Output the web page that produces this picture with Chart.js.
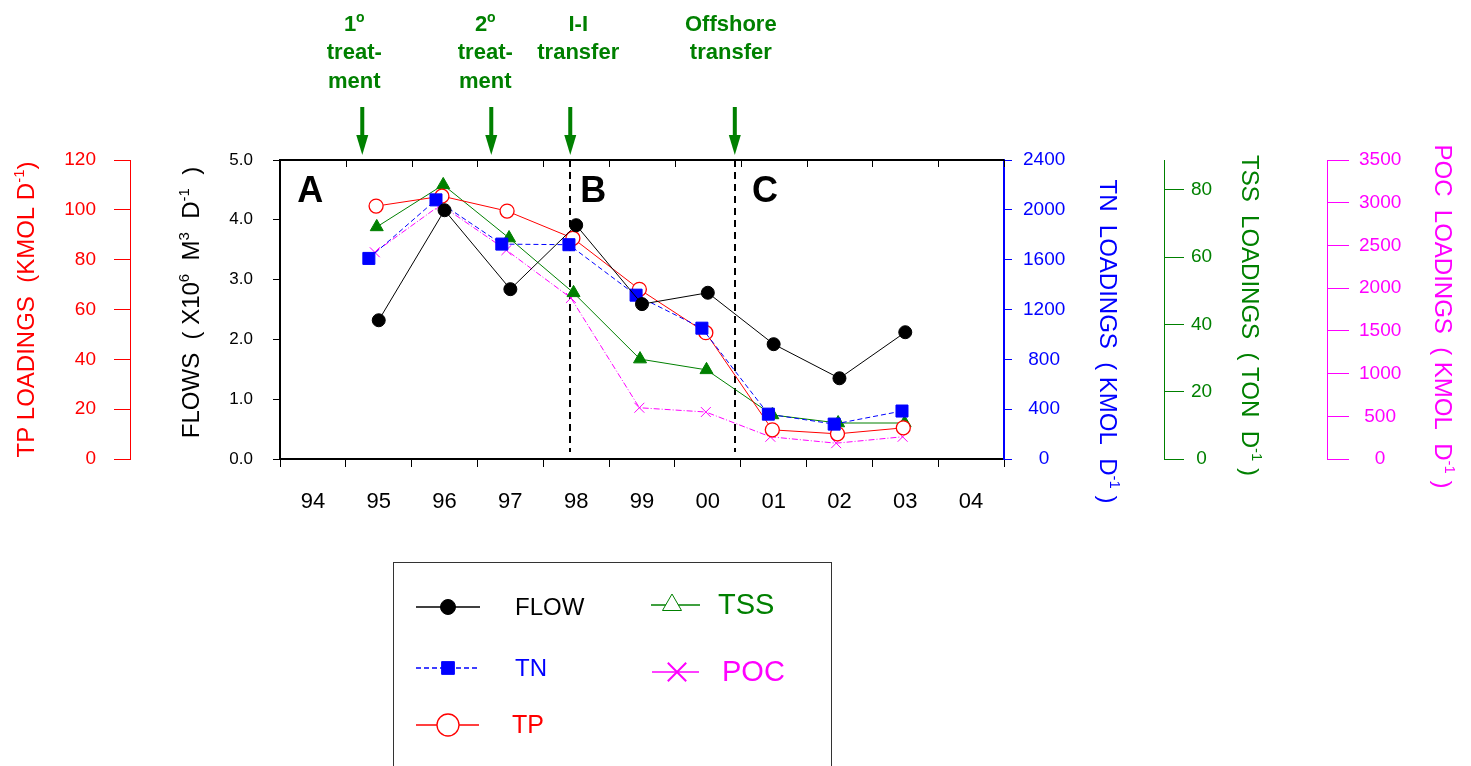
<!DOCTYPE html>
<html>
<head>
<meta charset="utf-8">
<title>Flows and loadings</title>
<script src="https://cdn.jsdelivr.net/npm/chart.js@4.4.1/dist/chart.umd.min.js"></script>
<style>
  html, body { margin: 0; padding: 0; background: #fff; }
  #wrap { width: 1471px; height: 766px; position: relative; }
</style>
</head>
<body>
<div id="wrap"><canvas id="grafico"></canvas></div>
<script>
// Year labels (bottom axis)
const xLabels = ["94", "95", "96", "97", "98", "99", "00", "01", "02", "03", "04"];

// FLOW (x10^6 m3/d)
const flowYears = [95, 96, 97, 98, 99, 100, 101, 102, 103];
const flow = [2.32, 4.16, 2.84, 3.91, 2.59, 2.78, 1.92, 1.35, 2.12];

// TN loadings (kmol/d)
const tnYears = [94.85, 95.87, 96.87, 97.89, 98.91, 99.91, 100.92, 101.92, 102.95];
const tn = [1610, 2080, 1725, 1720, 1315, 1050, 360, 280, 385];

// TP loadings (kmol/d)
const tpYears = [94.96, 95.96, 96.95, 97.95, 98.96, 99.97, 100.98, 101.97, 102.97];
const tp = [101.5, 105.5, 99.5, 88.6, 68.1, 50.7, 11.7, 10.1, 12.5];

// TSS loadings (ton/d)
const tssYears = [94.97, 95.98, 96.98, 97.96, 98.97, 99.98, 100.98, 101.98, 102.99];
const tss = [69.0, 81.5, 65.7, 49.4, 29.7, 26.5, 13.1, 10.7, 10.7];

// POC loadings (kmol/d)
const pocYears = [94.94, 95.94, 96.94, 97.92, 98.96, 99.97, 100.95, 101.95, 102.96];
const poc = [2420, 2975, 2445, 1885, 600, 550, 260, 185, 260];

// Events (arrows on top) and phase boundaries
const eventYears = [94.75, 96.71, 97.91, 100.41];
const eventTexts = [
    [["1", "o"], "treat-", "ment"],
    [["2", "o"], "treat-", "ment"],
    ["I-I", "transfer"],
    ["Offshore", "transfer"]
];
const eventTextShift = [-8, -6, 8, -4];
const phaseLines = [97.91, 100.41];
const phaseNames = ["A", "B", "C"];
const phaseLabelYears = [93.96, 98.26, 100.87];

const GREEN = "#008000";
const FONT = "'Liberation Sans', Arial, Helvetica, sans-serif";

function pontos(xs, ys) {
    return xs.map((x, i) => ({ x: x, y: ys[i] }));
}

// Text with superscripts, centered on (x, y), rotated
function textoRico(ctx, parts, x, y, angle, size, color, bold) {
    const w = bold ? "bold " : "";
    ctx.save();
    ctx.translate(x, y);
    ctx.rotate(angle);
    ctx.fillStyle = color;
    ctx.textAlign = "left";
    ctx.textBaseline = "alphabetic";
    let total = 0;
    parts.forEach(p => {
        const sup = typeof p !== "string";
        ctx.font = w + (sup ? Math.round(size * 0.62) : size) + "px " + FONT;
        total += ctx.measureText(sup ? p.s : p).width;
    });
    let cx = -total / 2;
    const base = size * 0.36;
    parts.forEach(p => {
        const sup = typeof p !== "string";
        ctx.font = w + (sup ? Math.round(size * 0.62) : size) + "px " + FONT;
        const t = sup ? p.s : p;
        ctx.fillText(t, cx, sup ? base - size * 0.42 : base);
        cx += ctx.measureText(t).width;
    });
    ctx.restore();
}

// Axis titles
const eixoTitulos = {
    id: "eixoTitulos",
    afterDraw(chart) {
        const ctx = chart.ctx;
        const s = chart.scales;
        const mid = (chart.chartArea.top + chart.chartArea.bottom) / 2;
        textoRico(ctx, ["TP LOADINGS  (KMOL D", { s: "-1" }, ")"], s.yTP.left + 25, mid, -Math.PI / 2, 24, "#ff0000");
        textoRico(ctx, ["FLOWS  ( X10", { s: "6" }, "  M", { s: "3" }, "  D", { s: "-1" }, "  )"], s.y.left + 60, mid - 7, -Math.PI / 2, 24, "#000");
        textoRico(ctx, ["TN  LOADINGS  ( KMOL  D", { s: "-1" }, " )"], s.yTN.left + 105, mid + 32, Math.PI / 2, 24, "#0000ff");
        textoRico(ctx, ["TSS  LOADINGS  ( TON  D", { s: "-1" }, " )"], s.yTSS.left + 87, mid + 6, Math.PI / 2, 24, GREEN);
        textoRico(ctx, ["POC  LOADINGS  ( KMOL  D", { s: "-1" }, " )"], s.yPOC.left + 117, mid + 7, Math.PI / 2, 24, "#ff00ff");
    }
};

// Top frame, phase lines, event arrows, A/B/C
const marcacoes = {
    id: "marcacoes",
    beforeDatasetsDraw(chart) {
        const ctx = chart.ctx;
        const area = chart.chartArea;
        const xs = chart.scales.x;
        const yf = chart.scales.y;
        ctx.save();
        // top frame with inward ticks
        ctx.strokeStyle = "#000";
        ctx.lineWidth = 2;
        ctx.beginPath();
        ctx.moveTo(area.left - 1, area.top);
        ctx.lineTo(area.right, area.top);
        ctx.stroke();
        ctx.lineWidth = 1;
        xs.ticks.forEach(t => {
            const px = Math.round(xs.getPixelForValue(t.value)) + 0.5;
            ctx.beginPath();
            ctx.moveTo(px, area.top);
            ctx.lineTo(px, area.top + 7);
            ctx.stroke();
        });
        // phase boundaries
        ctx.lineWidth = 2;
        ctx.setLineDash([7, 5]);
        phaseLines.forEach(v => {
            const px = Math.round(xs.getPixelForValue(v));
            ctx.beginPath();
            ctx.moveTo(px, area.top);
            ctx.lineTo(px, area.bottom - 7);
            ctx.stroke();
        });
        ctx.setLineDash([]);
        // phase letters
        ctx.fillStyle = "#000";
        ctx.font = "bold 36px " + FONT;
        ctx.textAlign = "center";
        ctx.textBaseline = "middle";
        phaseNames.forEach((n, i) => {
            ctx.fillText(n, xs.getPixelForValue(phaseLabelYears[i]), yf.getPixelForValue(4.5) + 2);
        });
        // arrows and event text
        ctx.fillStyle = GREEN;
        eventYears.forEach((v, i) => {
            const px = xs.getPixelForValue(v);
            ctx.fillRect(px - 2, area.top - 53, 4, 29);
            ctx.beginPath();
            ctx.moveTo(px - 6, area.top - 25);
            ctx.lineTo(px + 6, area.top - 25);
            ctx.lineTo(px, area.top - 5);
            ctx.closePath();
            ctx.fill();
            eventTexts[i].forEach((line, k) => {
                const parts = typeof line === "string" ? [line] : [line[0], { s: line[1] }];
                textoRico(ctx, parts, px + eventTextShift[i], 23 + k * 28.5, 0, 22, GREEN, true);
            });
        });
        ctx.restore();
    }
};

// Boxed legend, two columns
const legendaBox = { x: 393, y: 562, w: 438 };
const legendaItens = [
    { ds: 0, dy: 45, x1: 23, x2: 87, mx: 55, tx: 122, size: 24, r: 7.5 },
    { ds: 1, dy: 106, x1: 23, x2: 84, mx: 55, tx: 122, size: 24, r: 9, dash: true },
    { ds: 2, dy: 163, x1: 23, x2: 86, mx: 55, tx: 119, size: 25, r: 11 },
    { ds: 3, dy: 43, x1: 258, x2: 307, mx: 279, tx: 325, size: 29, r: 11, fill: "#fff" },
    { ds: 4, dy: 110, x1: 259, x2: 306, mx: 284, tx: 329, size: 29, r: 13, bw: 2 }
];
const legenda = {
    id: "legenda",
    afterDraw(chart) {
        const ctx = chart.ctx;
        const b = legendaBox;
        ctx.save();
        ctx.strokeStyle = "#333";
        ctx.lineWidth = 1;
        ctx.strokeRect(b.x + 0.5, b.y + 0.5, b.w, 300);
        legendaItens.forEach(it => {
            const ds = chart.data.datasets[it.ds];
            const y = b.y + it.dy;
            ctx.strokeStyle = ds.borderColor;
            ctx.lineWidth = 1.5;
            ctx.setLineDash(it.dash ? ds.borderDash : []);
            ctx.beginPath();
            ctx.moveTo(b.x + it.x1, y);
            ctx.lineTo(b.x + it.x2, y);
            ctx.stroke();
            ctx.setLineDash([]);
            const bw = it.bw || ds.pointBorderWidth;
            ctx.fillStyle = it.fill || ds.pointBackgroundColor;
            ctx.strokeStyle = ds.pointBorderColor;
            ctx.lineWidth = bw;
            Chart.helpers.drawPoint(ctx, { pointStyle: ds.pointStyle, radius: it.r, borderWidth: bw, rotation: 0 }, b.x + it.mx, y);
            ctx.fillStyle = ds.borderColor;
            ctx.font = it.size + "px " + FONT;
            ctx.textAlign = "left";
            ctx.textBaseline = "middle";
            ctx.fillText(ds.label, b.x + it.tx, y + 1);
        });
        ctx.restore();
    }
};

function eixoY(pos, weight, min, max, step, color, tickLen, pad, width, font, fmt, borderW) {
    return {
        type: "linear",
        position: pos,
        weight: weight,
        min: min,
        max: max,
        border: { display: true, color: color, width: borderW || 1 },
        grid: { drawOnChartArea: false, color: color, tickColor: color, tickLength: tickLen, lineWidth: 1 },
        ticks: {
            stepSize: step, includeBounds: false, color: color, padding: pad,
            crossAlign: pos === "right" ? "center" : "near",
            font: { family: FONT, size: font },
            callback: fmt || (v => String(v))
        },
        afterFit: s => { s.width = width; }
    };
}

const ctx = document.getElementById("grafico").getContext("2d");
new Chart(ctx, {
    type: "line",
    data: {
        datasets: [
            {
                label: "FLOW", data: pontos(flowYears, flow), yAxisID: "y",
                borderColor: "#000", borderWidth: 1,
                pointStyle: "circle", pointRadius: 6.5, pointBackgroundColor: "#000", pointBorderColor: "#000", pointBorderWidth: 1
            },
            {
                label: "TN", data: pontos(tnYears, tn), yAxisID: "yTN",
                borderColor: "#0000ff", borderWidth: 1, borderDash: [5, 3],
                pointStyle: "rect", pointRadius: 8.5, pointBackgroundColor: "#0000ff", pointBorderColor: "#0000ff", pointBorderWidth: 1
            },
            {
                label: "TP", data: pontos(tpYears, tp), yAxisID: "yTP",
                borderColor: "#ff0000", borderWidth: 1,
                pointStyle: "circle", pointRadius: 7, pointBackgroundColor: "#fff", pointBorderColor: "#ff0000", pointBorderWidth: 1.3
            },
            {
                label: "TSS", data: pontos(tssYears, tss), yAxisID: "yTSS",
                borderColor: GREEN, borderWidth: 1,
                pointStyle: "triangle", pointRadius: 7.5, pointBackgroundColor: GREEN, pointBorderColor: GREEN, pointBorderWidth: 1
            },
            {
                label: "POC", data: pontos(pocYears, poc), yAxisID: "yPOC",
                borderColor: "#ff00ff", borderWidth: 1, borderDash: [6, 2, 1, 2],
                pointStyle: "crossRot", pointRadius: 7, pointBackgroundColor: "#ff00ff", pointBorderColor: "#ff00ff", pointBorderWidth: 1
            }
        ]
    },
    options: {
        responsive: true,
        maintainAspectRatio: false,
        animation: false,
        layout: { padding: { top: 160, left: 0, right: 0, bottom: 247 } },
        elements: { line: { tension: 0 } },
        plugins: { legend: { display: false }, tooltip: { enabled: false } },
        scales: {
            x: {
                type: "linear",
                position: "bottom",
                min: 93.5,
                max: 104.5,
                border: { display: true, color: "#000", width: 2 },
                grid: { drawOnChartArea: false, color: "#000", tickColor: "#000", tickLength: 8 },
                afterBuildTicks: s => { s.ticks = xLabels.concat([""]).map((l, i) => ({ value: 93.5 + i })); },
                ticks: {
                    autoSkip: false, maxRotation: 0, padding: 22, labelOffset: 32.9,
                    color: "#000", font: { family: FONT, size: 22 },
                    callback: (v, i) => xLabels[i] || ""
                },
                afterFit: s => { s.height = 60; }
            },
            y: eixoY("left", 0, 0, 5, 1, "#000", 7, 20, 150, 17, v => v.toFixed(1), 2),
            yTP: eixoY("left", 1, 0, 120, 20, "#ff0000", 16, 18, 130, 19),
            yTN: eixoY("right", 0, 0, 2400, 400, "#0000ff", 8, 11, 160, 19, null, 2),
            yTSS: eixoY("right", 1, 0, 88.9, 20, GREEN, 20, 7, 163, 19),
            yPOC: eixoY("right", 2, 0, 3500, 500, "#ff00ff", 22, 10, 144, 19)
        }
    },
    plugins: [marcacoes, eixoTitulos, legenda]
});
</script>
</body>
</html>
